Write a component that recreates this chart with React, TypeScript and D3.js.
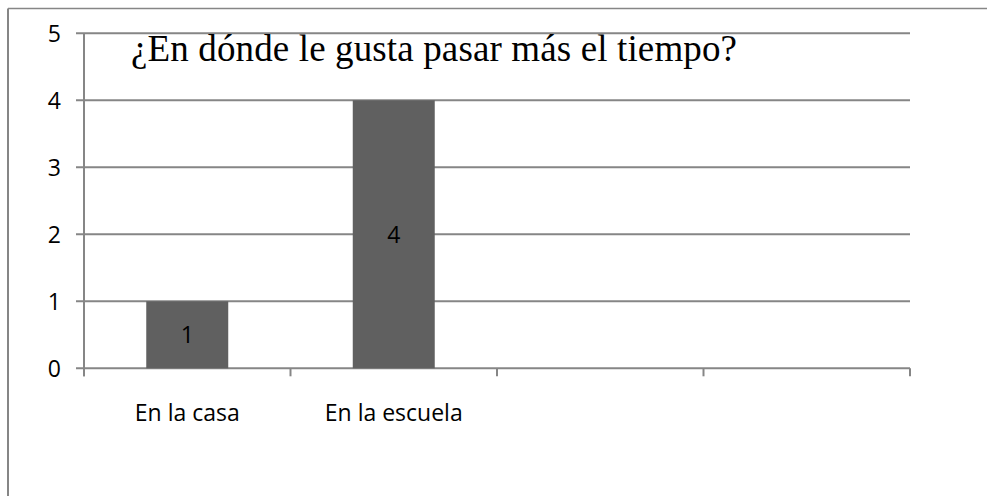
import React from "react";
import * as d3 from "d3";

const categories: string[] = ["En la casa", "En la escuela", "", ""];
const values: (number | null)[] = [1, 4, null, null];
const yTicks: number[] = [0, 1, 2, 3, 4, 5];
const title = "¿En dónde le gusta pasar más el tiempo?";

const W = 987;
const H = 496;
const plotLeft = 84;
const plotRight = 910;
const plotTop = 33.3;
const plotBottom = 368.3;
const gridColor = "#868686";
const barColor = "#606060";
const labelFont = "'Open Sans', 'DejaVu Sans', sans-serif";

export default function App() {
  const x = d3.scaleBand<string>()
    .domain(categories.map((_, i) => String(i)))
    .range([plotLeft, plotRight])
    .paddingInner(0)
    .paddingOuter(0);
  const y = d3.scaleLinear().domain([0, 5]).range([plotBottom, plotTop]);
  const step = x.step();
  const barW = step * 0.397;

  const boundaries = d3.range(categories.length + 1).map((i) => plotLeft + i * step);

  return (
    <svg
      width={W}
      height={H}
      style={{ position: "absolute", left: 0, top: 0, background: "#fff" }}
    >
      <rect x={0} y={0} width={W} height={H} fill="#fff" />
      {/* outer frame */}
      <line x1={8} y1={8.5} x2={W} y2={8.5} stroke={gridColor} strokeWidth={1.5} />
      <line x1={8} y1={8.5} x2={8} y2={H} stroke={gridColor} strokeWidth={2} />

      {/* gridlines and y ticks */}
      {yTicks.map((t) => (
        <g key={t}>
          <line
            x1={plotLeft - 8}
            x2={plotRight}
            y1={y(t)}
            y2={y(t)}
            stroke={gridColor}
            strokeWidth={2}
          />
          <text
            x={61}
            y={y(t)}
            dy="0.36em"
            textAnchor="end"
            fontFamily={labelFont}
            fontSize={23}
            fill="#000"
          >
            {t}
          </text>
        </g>
      ))}

      {/* y axis */}
      <line x1={plotLeft} x2={plotLeft} y1={plotTop} y2={plotBottom + 8} stroke={gridColor} strokeWidth={2} />
      {/* x ticks */}
      {boundaries.map((bx, i) => (
        <line key={i} x1={bx} x2={bx} y1={plotBottom} y2={plotBottom + 8} stroke={gridColor} strokeWidth={2} />
      ))}

      {/* bars */}
      {values.map((v, i) =>
        v == null ? null : (
          <g key={i}>
            <rect
              x={(x(String(i)) as number) + step / 2 - barW / 2}
              y={y(v)}
              width={barW}
              height={y(0) - y(v)}
              fill={barColor}
            />
            <text
              x={(x(String(i)) as number) + step / 2}
              y={(y(v) + y(0)) / 2}
              dy="0.36em"
              textAnchor="middle"
              fontFamily={labelFont}
              fontSize={23}
              fill="#000"
            >
              {v}
            </text>
          </g>
        )
      )}

      {/* category labels */}
      {categories.map((c, i) => (
        <text
          key={i}
          x={(x(String(i)) as number) + step / 2}
          y={421}
          textAnchor="middle"
          fontFamily={labelFont}
          fontSize={23}
          fill="#000"
        >
          {c}
        </text>
      ))}

      {/* title */}
      <text
        x={131}
        y={61}
        fontFamily="'Liberation Serif', 'Times New Roman', serif"
        fontSize={37}
        fill="#000"
        textLength={606}
        lengthAdjust="spacing"
      >
        {title}
      </text>
    </svg>
  );
}
